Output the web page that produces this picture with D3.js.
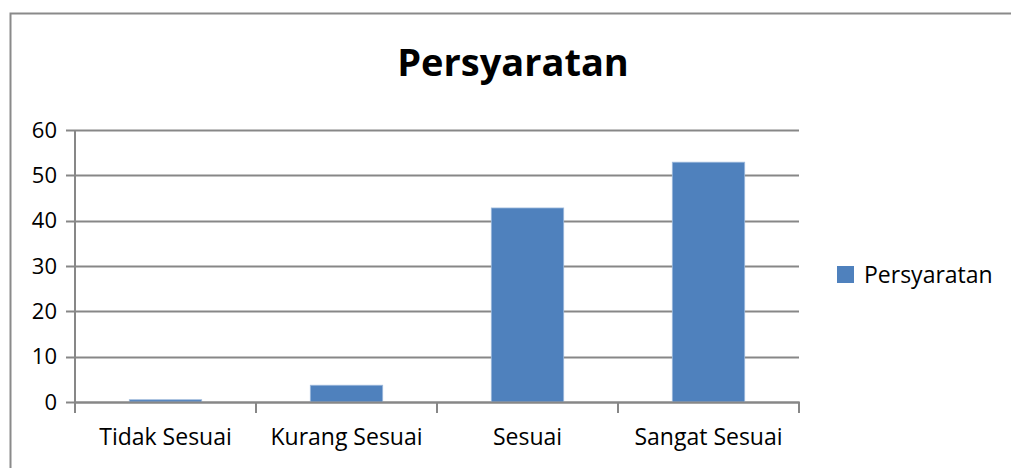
<!DOCTYPE html>
<html>
<head>
<meta charset="utf-8">
<script src="https://cdn.jsdelivr.net/npm/d3@7/dist/d3.min.js"></script>
<style>
  body { margin: 0; background: #fff; }
  text { font-family: "Open Sans", sans-serif; fill: #000; }
</style>
</head>
<body>
<div id="chart"></div>
<script>
// data
const categories = ["Tidak Sesuai", "Kurang Sesuai", "Sesuai", "Sangat Sesuai"];
const values = [0.5, 3.7, 42.8, 52.9];
const yTicks = [0, 10, 20, 30, 40, 50, 60];
const seriesName = "Persyaratan";
const chartTitle = "Persyaratan";

const W = 1011, H = 468;
const plot = { left: 75, right: 799, top: 130, bottom: 402 };

const svg = d3.select("#chart").append("svg")
    .attr("width", W)
    .attr("height", H);

// chart area frame with a soft shadow
svg.append("rect")
    .attr("x", 13).attr("y", 16)
    .attr("width", W).attr("height", H)
    .attr("fill", "none")
    .attr("stroke", "#e4e4e4")
    .attr("stroke-width", 3);
svg.append("rect")
    .attr("x", 10.5).attr("y", 13.5)
    .attr("width", W).attr("height", H)
    .attr("fill", "#fff")
    .attr("stroke", "#8a8a8a")
    .attr("stroke-width", 2);

// title
svg.append("text")
    .attr("x", 513)
    .attr("y", 76)
    .attr("text-anchor", "middle")
    .style("font-size", "38px")
    .style("font-weight", "bold")
    .style("fill", "#000")
    .text(chartTitle);

const x = d3.scaleBand()
    .domain(categories)
    .range([plot.left, plot.right])
    .paddingInner(0.6)
    .paddingOuter(0.3);

const xEdge = d3.scaleLinear()
    .domain([0, categories.length])
    .range([plot.left, plot.right]);

const y = d3.scaleLinear()
    .domain([0, 60])
    .range([plot.bottom, plot.top]);

// gridlines
svg.append("g")
    .selectAll("line")
    .data(yTicks)
    .join("line")
    .attr("x1", plot.left - 9)
    .attr("x2", plot.right)
    .attr("y1", d => Math.round(y(d)) + 0.5)
    .attr("y2", d => Math.round(y(d)) + 0.5)
    .attr("stroke", "#878787")
    .attr("stroke-width", 2);

// bars
svg.append("g")
    .selectAll("rect")
    .data(values)
    .join("rect")
    .attr("x", (d, i) => x(categories[i]))
    .attr("y", d => y(d))
    .attr("width", x.bandwidth())
    .attr("height", d => plot.bottom - y(d))
    .attr("fill", "#4f81bd")
    .attr("stroke", "#9db9dc")
    .attr("stroke-width", 0.8);

// y axis
const yAxis = d3.axisLeft(y)
    .tickValues(yTicks)
    .tickSize(0)
    .tickPadding(18);

const gy = svg.append("g")
    .attr("transform", `translate(${plot.left},0)`)
    .call(yAxis);
gy.select(".domain").remove();
gy.selectAll("text")
    .style("font-size", "22px")
    .style("font-family", "'Open Sans', sans-serif")
    .style("fill", "#000");

svg.append("line")
    .attr("x1", plot.left).attr("x2", plot.left)
    .attr("y1", plot.top).attr("y2", plot.bottom + 11)
    .attr("stroke", "#878787")
    .attr("stroke-width", 2);

// x axis line and category separators
svg.append("line")
    .attr("x1", plot.left).attr("x2", plot.right + 1)
    .attr("y1", plot.bottom + 0.5).attr("y2", plot.bottom + 0.5)
    .attr("stroke", "#878787")
    .attr("stroke-width", 2);

svg.append("g")
    .selectAll("line")
    .data(d3.range(1, categories.length + 1))
    .join("line")
    .attr("x1", d => xEdge(d))
    .attr("x2", d => xEdge(d))
    .attr("y1", plot.bottom)
    .attr("y2", plot.bottom + 11)
    .attr("stroke", "#878787")
    .attr("stroke-width", 2);

const xAxis = d3.axisBottom(x).tickSize(0).tickPadding(27);
const gx = svg.append("g")
    .attr("transform", `translate(0,${plot.bottom})`)
    .call(xAxis);
gx.select(".domain").remove();
gx.selectAll("text")
    .style("font-size", "23px")
    .style("font-family", "'Open Sans', sans-serif")
    .style("fill", "#000");

// legend
const legend = svg.append("g").attr("transform", "translate(837,266)");
legend.append("rect")
    .attr("width", 17).attr("height", 17)
    .attr("fill", "#4f81bd");
legend.append("text")
    .attr("x", 27)
    .attr("y", 17)
    .style("font-size", "23px")
    .text(seriesName);
</script>
</body>
</html>
